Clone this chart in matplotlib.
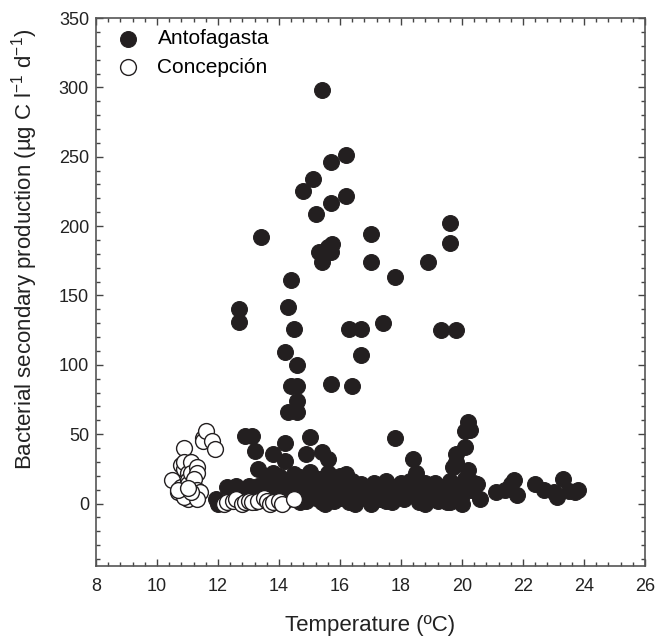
import matplotlib
matplotlib.use("Agg")
import matplotlib.pyplot as plt
from matplotlib.ticker import MultipleLocator

plt.rcParams['font.family'] = ['Liberation Sans', 'DejaVu Sans']
plt.rcParams['mathtext.fontset'] = 'custom'
plt.rcParams['mathtext.rm'] = 'Liberation Sans'
plt.rcParams['mathtext.it'] = 'Liberation Sans'

# Antofagasta: scattered high values
anto_hi_x = [15.4, 12.7, 12.7, 13.4, 14.3, 14.4, 14.2, 14.5, 14.6, 14.4, 14.6, 14.3, 14.6, 14.6,
             14.8, 15.1, 15.2, 15.3, 15.4, 15.6, 15.7, 15.75, 15.7, 15.7, 16.2, 16.2,
             15.7, 16.4, 16.3, 16.7, 16.7, 17.0, 17.0, 17.4, 17.8, 18.9, 19.3, 19.8, 19.6, 19.6]
anto_hi_y = [298, 140, 131, 192, 142, 161, 109, 126, 100, 85, 85, 66, 66, 74,
             225, 234, 209, 181, 174, 185, 181, 187, 217, 246, 251, 222,
             86, 85, 126, 126, 107, 194, 174, 130, 163, 174, 125, 125, 202, 188]

# Antofagasta: intermediate values and warm tail
anto_mid_x = [17.8, 20.2, 20.25, 20.1, 20.1, 19.8, 19.8, 19.7, 12.9, 13.1, 13.2, 13.3,
              13.8, 14.2, 14.2, 14.0, 15.0, 14.9, 15.4, 15.6, 18.4,
              21.1, 21.4, 21.6, 21.7, 21.8, 22.4, 22.7, 23.0, 23.1, 23.3, 23.5, 23.7, 23.8,
              20.5, 20.6]
anto_mid_y = [47, 59, 53, 52, 41, 36, 30, 26, 49, 49, 38, 25,
              36, 44, 31, 20, 48, 36, 37, 32, 32,
              8, 10, 14, 17, 6, 14, 10, 8, 5, 18, 9, 8, 10,
              14, 3]

# Antofagasta: dense band near zero
anto_lo_x = [11.95, 12.0, 12.3, 12.4, 12.5, 12.6, 12.8, 12.9, 13.0, 13.1, 13.2, 13.3, 13.4, 13.5,
             13.6, 13.7, 13.8, 13.9, 14.0, 14.1, 14.2, 14.3, 14.4, 14.5, 14.6, 14.7, 14.8, 14.9,
             15.0, 15.0, 15.1, 15.2, 15.3, 15.3, 15.4, 15.5, 15.6, 15.6, 15.7, 15.8, 15.9, 16.0,
             16.0, 16.1, 16.2, 16.2, 16.3, 16.4, 16.5, 16.6, 16.7, 16.8, 16.9, 17.0, 17.1, 17.2,
             17.3, 17.4, 17.5, 17.6, 17.7, 17.8, 17.9, 18.0, 18.1, 18.2, 18.3, 18.4, 18.5, 18.5,
             18.6, 18.7, 18.8, 18.9, 19.0, 19.1, 19.2, 19.3, 19.4, 19.5, 19.6, 19.6, 19.7, 19.8,
             19.9, 20.0, 20.1, 20.2, 20.3, 20.4, 20.0, 14.7, 15.5, 16.5, 17.5, 18.8, 19.5, 17.0]
anto_lo_y = [3, 0, 12, 2, 8, 13, 10, 4, 13, 6, 1, 13, 8, 3,
             20, 10, 22, 14, 6, 17, 2, 10, 14, 21, 6, 19, 11, 2,
             23, 8, 15, 4, 18, 10, 1, 13, 22, 6, 16, 2, 10, 20,
             4, 13, 21, 7, 1, 16, 10, 3, 14, 6, 11, 0, 15, 8,
             3, 12, 16, 6, 1, 12, 8, 15, 3, 10, 16, 6, 22, 12,
             1, 9, 15, 4, 11, 15, 2, 8, 12, 5, 1, 16, 9, 3,
             12, 6, 18, 24, 10, 15, 0, 1, 0, 0, 2, 0, 1, 5]

# Concepción
conc_x = [10.5, 10.7, 10.8, 10.9, 10.8, 10.9, 10.9, 11.0, 11.0, 11.1, 11.0, 11.0, 10.9, 10.7,
          11.1, 11.3, 11.3, 11.2, 11.3, 11.4, 11.3, 11.5, 11.5, 11.6, 11.8, 11.9, 11.1, 11.0,
          12.2, 12.3, 12.5, 12.6, 12.8, 12.9, 13.0, 13.1, 13.3, 13.5, 13.6, 13.7, 13.8, 14.0,
          14.1, 14.5]
conc_y = [17, 8, 12, 40, 28, 25, 30, 22, 17, 30, 14, 3, 5, 10,
          22, 26, 22, 18, 10, 8, 3, 47, 45, 52, 45, 39, 8, 11,
          0, 1, 2, 3, 0, 1, 2, 1, 2, 4, 2, 0, 1, 2,
          0, 3]

anto_x = anto_hi_x + anto_mid_x + anto_lo_x
anto_y = anto_hi_y + anto_mid_y + anto_lo_y

fig = plt.figure(figsize=(6.64, 6.37), dpi=100)
ax = fig.add_axes([0.1446, 0.1115, 0.8268, 0.8602])

dark = '#231f20'
ax.scatter(anto_x, anto_y, s=130, c=dark, edgecolors=dark, linewidths=0.8,
           label='Antofagasta', zorder=2)
ax.scatter(conc_x, conc_y, s=130, c='white', edgecolors=dark, linewidths=1.0,
           label='Concepción', zorder=3)

ax.set_xlim(8, 26)
ax.set_ylim(-45, 350)
ax.xaxis.set_major_locator(MultipleLocator(2))
ax.xaxis.set_minor_locator(MultipleLocator(0.4))
ax.yaxis.set_major_locator(MultipleLocator(50))
ax.yaxis.set_minor_locator(MultipleLocator(10))
ax.set_yticks([0, 50, 100, 150, 200, 250, 300, 350])

ax.tick_params(which='both', direction='in', top=True, right=True, colors='#444444',
               labelcolor='#222222', labelsize=13, width=1)
ax.tick_params(which='major', length=5)
ax.tick_params(which='minor', length=3)
ax.tick_params(axis='x', which='major', pad=9)
ax.tick_params(axis='y', which='major', pad=5)
for sp in ax.spines.values():
    sp.set_color('#555555')
    sp.set_linewidth(1.2)

ax.set_xlabel('Temperature (ºC)', fontsize=16, color='#222222', labelpad=14)
ax.set_ylabel('Bacterial secondary production (µg C l$^{-1}$ d$^{-1}$)', fontsize=16,
              color='#222222')
ax.yaxis.set_label_coords(-0.102, 0.578)

ax.legend(loc='upper left', frameon=False, fontsize=15, handletextpad=0.4,
          borderaxespad=0.15, labelspacing=0.45, markerscale=1.0)

fig.savefig('out.png', dpi=100)
